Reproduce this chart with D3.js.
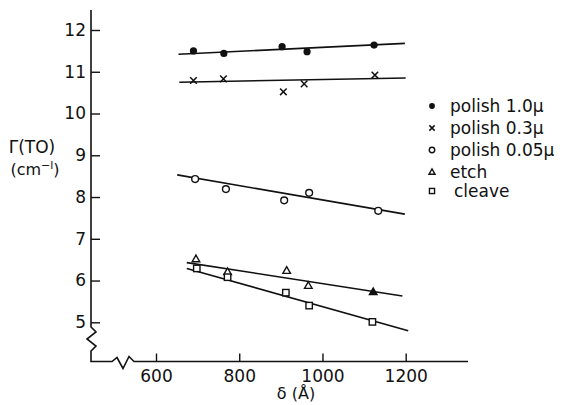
<!DOCTYPE html>
<html>
<head>
<meta charset="utf-8">
<script src="https://cdn.jsdelivr.net/npm/d3@7/dist/d3.min.js"></script>
<style>
  html, body { margin: 0; padding: 0; background: #fff; }
  svg { display: block; font-family: "DejaVu Sans", sans-serif; }
</style>
</head>
<body>
<svg id="chart" width="567" height="405"></svg>
<script>
// ---- data ----
const xTicks = [600, 800, 1000, 1200];
const yTicks = [5, 6, 7, 8, 9, 10, 11, 12];
const seriesNames = ["polish 1.0\u03bc", "polish 0.3\u03bc", "polish 0.05\u03bc", "etch", "cleave"];
const seriesSymbols = ["dot", "cross", "circle", "triangle", "square"];

const polish10X = [690, 763, 903, 963, 1124];
const polish10Y = [11.50, 11.44, 11.60, 11.48, 11.64];
const polish03X = [690, 762, 906, 956, 1126];
const polish03Y = [10.79, 10.83, 10.52, 10.71, 10.92];
const polish005X = [694, 768, 908, 968, 1134];
const polish005Y = [8.43, 8.19, 7.92, 8.10, 7.67];
const etchX = [696, 772, 914, 966, 1122];
const etchY = [6.52, 6.21, 6.24, 5.88, 5.73];
const cleaveX = [698, 772, 912, 968, 1120];
const cleaveY = [6.29, 6.08, 5.71, 5.40, 5.01];

// fitted lines: [x0, y0, x1, y1]
const polish10Fit = [654, 11.42, 1198, 11.68];
const polish03Fit = [656, 10.75, 1200, 10.85];
const polish005Fit = [651, 8.53, 1198, 7.59];
const etchFit = [674, 6.43, 1192, 5.63];
const cleaveFit = [674, 6.29, 1206, 4.80];

const seriesX = [polish10X, polish03X, polish005X, etchX, cleaveX];
const seriesY = [polish10Y, polish03Y, polish005Y, etchY, cleaveY];
const seriesFit = [polish10Fit, polish03Fit, polish005Fit, etchFit, cleaveFit];
// filled-looking point (overlap with line in original)
const filledEtchIndex = 4;

// ---- layout ----
const svg = d3.select("#chart");
const axisX0 = 91, axisY0 = 361.5;
const x = d3.scaleLinear().domain([600, 1200]).range([156, 405.7]);
const y = d3.scaleLinear().domain([5, 12]).range([322.3, 30]);

const ink = "#111";

// y axis ticks and labels
const yAxis = d3.axisLeft(y).tickValues(yTicks).tickSize(-9).tickPadding(5).tickFormat(d3.format("d"));
const gy = svg.append("g").attr("transform", `translate(${axisX0},0)`).call(yAxis);
gy.select(".domain").remove();
gy.selectAll(".tick line").attr("stroke", ink).attr("stroke-width", 1.4);
gy.selectAll(".tick text").attr("fill", ink).attr("font-size", 17).attr("font-family", "DejaVu Sans");

// x axis ticks and labels
const xAxis = d3.axisBottom(x).tickValues(xTicks).tickSize(-8).tickPadding(8).tickFormat(d3.format("d"));
const gx = svg.append("g").attr("transform", `translate(0,${axisY0})`).call(xAxis);
gx.select(".domain").remove();
gx.selectAll(".tick line").attr("stroke", ink).attr("stroke-width", 1.4);
gx.selectAll(".tick text").attr("fill", ink).attr("font-size", 17).attr("font-family", "DejaVu Sans");

// axis lines with break zigzags
const line = d3.line();
svg.append("path")
  .attr("d", line([
    [axisX0, 10], [axisX0, 327], [axisX0 + 5, 332], [axisX0 - 4, 339],
    [axisX0 + 5, 346], [axisX0, 351], [axisX0, axisY0],
    [112, axisY0], [117, axisY0 - 4], [123, axisY0 + 7], [129, axisY0 - 5],
    [134, axisY0], [468, axisY0]
  ]))
  .attr("fill", "none").attr("stroke", ink).attr("stroke-width", 1.6)
  .attr("stroke-linejoin", "miter");

// axis titles
svg.append("text").attr("x", 32).attr("y", 153).attr("text-anchor", "middle")
  .attr("font-size", 17).attr("fill", ink).text("\u0393(TO)");
const cm = svg.append("text").attr("x", 35).attr("y", 175).attr("text-anchor", "middle")
  .attr("font-size", 16).attr("fill", ink);
cm.append("tspan").text("(cm");
cm.append("tspan").attr("dy", -6).attr("font-size", 11).text("\u2212l");
cm.append("tspan").attr("dy", 6).text(")");
svg.append("text").attr("x", 296).attr("y", 399).attr("text-anchor", "middle")
  .attr("font-size", 16).attr("fill", ink).text("\u03b4 (\u00c5)");

// fit lines
seriesFit.forEach(f => {
  svg.append("line")
    .attr("x1", x(f[0])).attr("y1", y(f[1]))
    .attr("x2", x(f[2])).attr("y2", y(f[3]))
    .attr("stroke", ink).attr("stroke-width", 1.6);
});

// symbol drawing
function drawSymbol(g, type, cx, cy, scale, filled) {
  const s = scale;
  if (type === "dot") {
    g.append("circle").attr("cx", cx).attr("cy", cy).attr("r", 3.6 * s).attr("fill", ink);
  } else if (type === "circle") {
    g.append("circle").attr("cx", cx).attr("cy", cy).attr("r", 3.4 * s)
      .attr("fill", "#fff").attr("stroke", ink).attr("stroke-width", 1.4);
  } else if (type === "cross") {
    const d = 3.3 * s;
    g.append("path").attr("d", `M${cx - d},${cy - d}L${cx + d},${cy + d}M${cx + d},${cy - d}L${cx - d},${cy + d}`)
      .attr("stroke", ink).attr("stroke-width", 1.5).attr("fill", "none");
  } else if (type === "triangle") {
    const d = 3.8 * s;
    g.append("path").attr("d", `M${cx},${cy - d}L${cx + d},${cy + d * 0.75}L${cx - d},${cy + d * 0.75}Z`)
      .attr("stroke", ink).attr("stroke-width", 1.4).attr("fill", filled ? ink : "#fff");
  } else if (type === "square") {
    const d = 3.2 * s;
    g.append("rect").attr("x", cx - d).attr("y", cy - d).attr("width", 2 * d).attr("height", 2 * d)
      .attr("stroke", ink).attr("stroke-width", 1.4).attr("fill", "#fff");
  }
}

// points
const gp = svg.append("g");
seriesX.forEach((xs, si) => {
  xs.forEach((xv, i) => {
    const filled = (si === 3 && i === filledEtchIndex);
    drawSymbol(gp, seriesSymbols[si], x(xv), y(seriesY[si][i]), 1, filled);
  });
});

// legend
const legendY = [106, 128, 150, 172, 191];
const gl = svg.append("g");
seriesNames.forEach((name, i) => {
  drawSymbol(gl, seriesSymbols[i], 432, legendY[i], 0.8, false);
  gl.append("text").attr("x", i === 4 ? 454 : 450).attr("y", legendY[i]).attr("dy", "0.35em")
    .attr("font-size", 17).attr("fill", ink).text(name);
});
</script>
</body>
</html>
